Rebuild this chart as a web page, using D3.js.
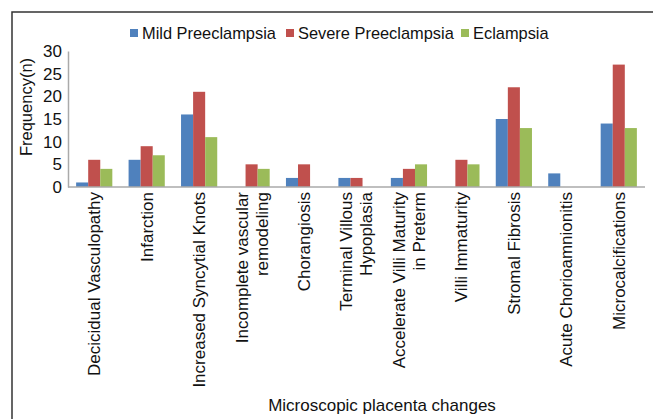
<!DOCTYPE html>
<html>
<head>
<meta charset="utf-8">
<script src="https://cdn.jsdelivr.net/npm/d3@7"></script>
<style>
  body { margin: 0; background: #fff; }
  text { font-family: "Liberation Sans", Arial, sans-serif; fill: #111; }
</style>
</head>
<body>
<div id="chart"></div>
<script>
// categories (multi-line labels split by "|")
let categories = [
  "Decicidual Vasculopathy",
  "Infarction",
  "Increased Syncytial Knots",
  "Incomplete vascular|remodeling",
  "Chorangiosis",
  "Terminal Villous|Hypoplasia",
  "Accelerate Villi Maturity|in Preterm",
  "Villi Immaturity",
  "Stromal Fibrosis",
  "Acute Chorioamnionitis",
  "Microcalcifications"
];
let seriesNames = ["Mild Preeclampsia", "Severe Preeclampsia", "Eclampsia"];
let mild   = [1, 6, 16, 0, 2, 2, 2, 0, 15, 3, 14];
let severe = [6, 9, 21, 5, 5, 2, 4, 6, 22, 0, 27];
let eclam  = [4, 7, 11, 4, 0, 0, 5, 5, 13, 0, 13];
let yTicks = [0, 5, 10, 15, 20, 25, 30];

let colors = ["#4F81BD", "#C0504D", "#9BBB59"];
let series = [mild, severe, eclam];

let W = 653, H = 419;
let svg = d3.select("#chart").append("svg")
    .attr("width", W)
    .attr("height", H);

// frame (top + left only visible)
svg.append("path")
    .attr("d", "M12,419 L12,12 L653,12")
    .attr("fill", "none")
    .attr("stroke", "#333")
    .attr("stroke-width", 1.5);

let plotLeft = 68, plotRight = 645, plotTop = 51, plotBottom = 187;

let x0 = d3.scaleBand()
    .domain(categories)
    .range([plotLeft, plotRight])
    .paddingInner(0.31)
    .paddingOuter(0.155);

let x1 = d3.scaleBand()
    .domain(d3.range(series.length))
    .range([0, x0.bandwidth()]);

let y = d3.scaleLinear()
    .domain([0, 30])
    .range([plotBottom, plotTop]);

// bars
let groups = svg.append("g").selectAll("g")
    .data(categories)
    .enter().append("g")
    .attr("transform", d => "translate(" + x0(d) + ",0)");

groups.selectAll("rect")
    .data((d, i) => series.map((s, k) => ({k: k, v: s[i]})))
    .enter().append("rect")
    .attr("x", d => x1(d.k))
    .attr("width", x1.bandwidth())
    .attr("y", d => y(d.v))
    .attr("height", d => y(0) - y(d.v))
    .attr("fill", d => colors[d.k]);

// y axis
let yAxis = svg.append("g")
    .attr("transform", "translate(" + plotLeft + ",0)")
    .call(d3.axisLeft(y).tickValues(yTicks).tickSize(0).tickPadding(6));
yAxis.select(".domain").attr("stroke", "#aaa").attr("stroke-width", 1.5);
yAxis.selectAll("text")
    .style("font-size", "17px")
    .style("font-family", "Liberation Sans, Arial, sans-serif")
    .attr("fill", "#111");

// baseline
svg.append("line")
    .attr("x1", plotLeft).attr("x2", plotRight)
    .attr("y1", y(0)).attr("y2", y(0))
    .attr("stroke", "#aaa")
    .attr("stroke-width", 1.5);

// x labels, rotated
let xl = svg.append("g").selectAll("text")
    .data(categories)
    .enter().append("text")
    .attr("text-anchor", "end")
    .style("font-size", "17px")
    .attr("transform", d => {
      let cx = x0(d) + x0.bandwidth() / 2;
      return "translate(" + cx + "," + (plotBottom + 5) + ") rotate(-90)";
    });

xl.each(function(d) {
  let lines = d.split("|");
  let lh = 20;
  let off = -(lines.length - 1) * lh / 2;
  let t = d3.select(this);
  lines.forEach((ln, i) => {
    t.append("tspan")
      .attr("x", 0)
      .attr("y", off + i * lh)
      .attr("dy", "0.35em")
      .text(ln);
  });
});

// axis titles
svg.append("text")
    .attr("transform", "translate(32,107) rotate(-90)")
    .attr("text-anchor", "middle")
    .style("font-size", "16.5px")
    .text("Frequency(n)");

svg.append("text")
    .attr("x", 382)
    .attr("y", 411)
    .attr("text-anchor", "middle")
    .style("font-size", "17px")
    .text("Microscopic placenta changes");

// legend
let legendX = [130, 286, 461];
let legend = svg.append("g").selectAll("g")
    .data(seriesNames)
    .enter().append("g")
    .attr("transform", (d, i) => "translate(" + legendX[i] + ",29)");

legend.append("rect")
    .attr("width", 8)
    .attr("height", 8)
    .attr("fill", (d, i) => colors[i]);

legend.append("text")
    .attr("x", 12)
    .attr("y", 4)
    .attr("dy", "0.35em")
    .style("font-size", "16.4px")
    .text(d => d);
</script>
</body>
</html>
